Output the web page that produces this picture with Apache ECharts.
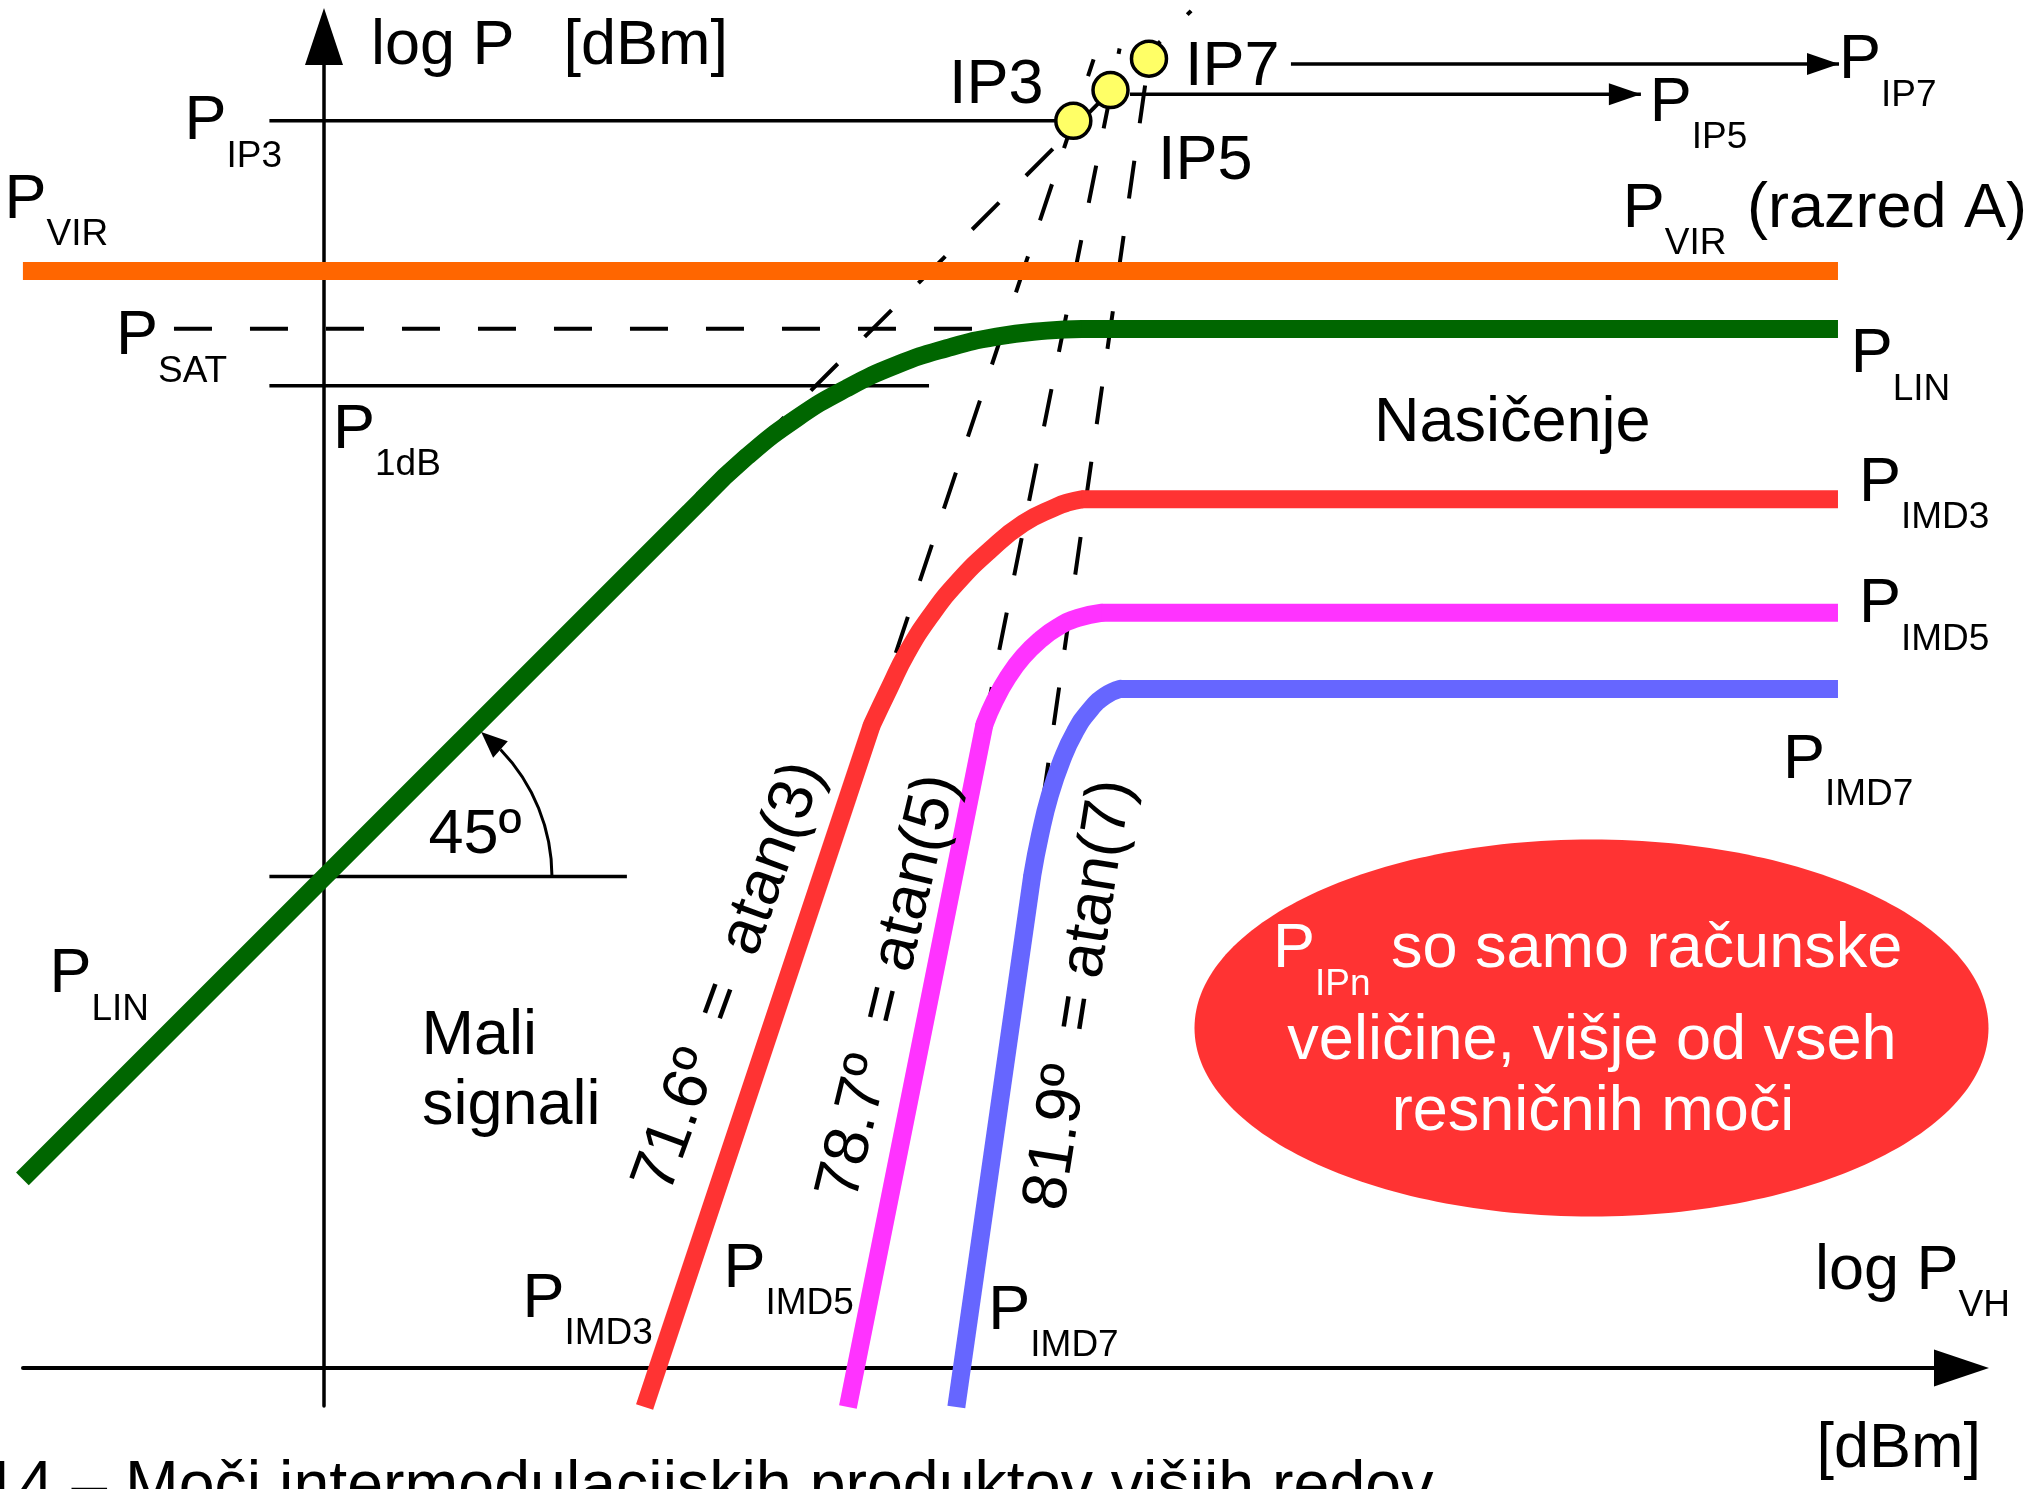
<!DOCTYPE html>
<html>
<head>
<meta charset="utf-8">
<script src="https://cdn.jsdelivr.net/npm/echarts@6/dist/echarts.min.js"></script>
<style>
  html, body { margin: 0; padding: 0; background: #ffffff; }
  #chart { width: 2041px; height: 1489px; }
</style>
</head>
<body>
<div id="chart"></div>
<script>
// ---- Power levels, in dB (x: input power log P_VH, y: output power log P) ----

// Linear output P_LIN: 45° rise, compression knee, saturation
const linRise = [[-11.6, 7.27], [14.59, 33.46]];
const linKnee = [[14.59, 33.46], [16.26, 35.05], [18.18, 36.53], [20.10, 37.68], [22.03, 38.58],
                 [23.95, 39.22], [25.87, 39.67], [27.80, 39.90], [29.14, 39.96]];
const linSat  = [[29.14, 39.96], [58.23, 39.96]];

// Third-order intermodulation P_IMD3 (slope 3)
const imd3Rise = [[12.33, -1.5], [21.07, 24.73]];
const imd3Knee = [[21.07, 24.73], [21.77, 26.20], [22.41, 27.49], [23.31, 28.90], [24.33, 30.18],
                  [25.62, 31.46], [26.90, 32.49], [28.18, 33.13], [28.62, 33.29], [29.14, 33.41]];
const imd3Sat  = [[29.14, 33.41], [58.23, 33.41]];

// Fifth-order intermodulation P_IMD5 (slope 5)
const imd5Rise = [[20.15, -1.5], [25.40, 24.75]];
const imd5Knee = [[25.40, 24.75], [25.81, 25.69], [26.31, 26.58], [26.88, 27.35], [27.54, 28.00],
                  [28.23, 28.50], [29.00, 28.85], [29.91, 29.05]];
const imd5Sat  = [[29.91, 29.05], [58.23, 29.05]];

// Seventh-order intermodulation P_IMD7 (slope 7)
const imd7Rise = [[24.32, -1.5], [27.24, 18.94]];
const imd7Knee = [[27.24, 18.94], [27.54, 20.50], [27.92, 22.04], [28.38, 23.38], [28.88, 24.46],
                  [29.46, 25.31], [30.04, 25.85], [30.62, 26.12]];
const imd7Sat  = [[30.62, 26.12], [58.23, 26.12]];

// Supply power level P_VIR (class A)
const pVir = [[-11.58, 42.19], [58.23, 42.19]];

// Extrapolations of the small-signal slopes towards the intercept points
const extLin  = [[14.59, 33.46], [33.35, 52.20]];
const extImd3 = [[21.07, 24.73], [29.60, 50.33]];
const extImd5 = [[25.40, 24.75], [30.60, 50.75]];
const extImd7 = [[27.24, 18.94], [31.73, 50.37]];

// Intercept points IP3, IP5, IP7
const interceptNames = ['IP3', 'IP5', 'IP7'];
const interceptPts = [[28.82, 47.97], [30.25, 49.15], [31.73, 50.36]];

// Marker levels
const satLevel  = [[-5.77, 39.97], [29.14, 39.97]];
const p1dBLevel = [[-2.10, 37.78], [23.27, 37.78]];
const ip3Level  = [[-2.10, 47.97], [28.82, 47.97]];
const refLevel  = [[-2.10, 18.90], [11.65, 18.90]];
const ip5Arrow  = [[31.00, 48.99], [50.65, 48.99]];
const ip7Arrow  = [[37.19, 50.15], [58.27, 50.15]];

// ---- Layout: 26 px per dB on both axes keeps the 45° line at 45° ----
const PX_PER_DB = 26;
const ORIGIN = [324, 1368];
const PLOT = { left: 23, top: 36.5, right: 1961.5, bottom: 1406 };

const FONT = '"Liberation Sans", Arial, Helvetica, sans-serif';
const BIG = 63, SMALL = 37, MID = 0.285;

const chart = echarts.init(document.getElementById('chart'), null, { renderer: 'canvas' });

function line(data, color, width, extra) {
  return Object.assign({
    type: 'line', data: data, symbol: 'none', clip: false, silent: true,
    animation: false, z: 2,
    lineStyle: { color: color, width: width, cap: 'butt', join: 'round' }
  }, extra || {});
}
function dashed(data) {
  return line(data, '#000000', 4, {
    lineStyle: { color: '#000000', width: 4, type: [38, 38], cap: 'butt' }
  });
}
function knee(data, color) {
  return line(data, color, 18, {
    smooth: 0.5,
    lineStyle: { color: color, width: 18, cap: 'round', join: 'round' }
  });
}

const GREEN = '#006600', ORANGE = '#FF6600', RED = '#FF3333', MAGENTA = '#FF33FF', BLUE = '#6666FF';

chart.setOption({
  animation: false,
  backgroundColor: '#ffffff',
  grid: {
    left: PLOT.left, top: PLOT.top,
    width: PLOT.right - PLOT.left, height: PLOT.bottom - PLOT.top,
    containLabel: false
  },
  xAxis: {
    type: 'value',
    min: (PLOT.left - ORIGIN[0]) / PX_PER_DB,
    max: (PLOT.right - ORIGIN[0]) / PX_PER_DB,
    axisLine: { show: true, onZero: true, symbol: ['none', 'triangle'], symbolSize: [37, 55],
                lineStyle: { color: '#000000', width: 4 } },
    axisTick: { show: false }, axisLabel: { show: false }, splitLine: { show: false }
  },
  yAxis: {
    type: 'value',
    min: (ORIGIN[1] - PLOT.bottom) / PX_PER_DB,
    max: (ORIGIN[1] - PLOT.top) / PX_PER_DB,
    axisLine: { show: true, onZero: true, symbol: ['none', 'triangle'], symbolSize: [38, 57],
                lineStyle: { color: '#000000', width: 3.5 } },
    axisTick: { show: false }, axisLabel: { show: false }, splitLine: { show: false }
  },
  series: [
    dashed(satLevel),
    dashed(extLin), dashed(extImd3), dashed(extImd5), dashed(extImd7),
    line(p1dBLevel, '#000000', 3.5),
    line(ip3Level, '#000000', 3.5),
    line(refLevel, '#000000', 3.5),
    line(ip5Arrow, '#000000', 3.5),
    line(ip7Arrow, '#000000', 3.5),
    line(pVir, ORANGE, 18),
    line(linRise, GREEN, 18), knee(linKnee, GREEN), line(linSat, GREEN, 18),
    line(imd3Rise, RED, 18), knee(imd3Knee, RED), line(imd3Sat, RED, 18),
    line(imd5Rise, MAGENTA, 18), knee(imd5Knee, MAGENTA), line(imd5Sat, MAGENTA, 18),
    line(imd7Rise, BLUE, 18), knee(imd7Knee, BLUE), line(imd7Sat, BLUE, 18),
    {
      type: 'scatter', data: interceptPts.map(function (p, i) { return { name: interceptNames[i], value: p }; }),
      symbol: 'circle', symbolSize: 35, silent: true, z: 5, animation: false,
      itemStyle: { color: '#FFFF66', borderColor: '#000000', borderWidth: 3.5, opacity: 1 }
    }
  ]
});

// ---- Annotations ----
function txt(x, base, str, size, fill, align) {
  return {
    type: 'text', x: x, y: base - MID * size, z: 100, silent: true,
    style: {
      text: str, font: size + 'px ' + FONT, fill: fill || '#000000',
      textAlign: align || 'left', align: align || 'left',
      textVerticalAlign: 'middle', verticalAlign: 'middle'
    }
  };
}
function psub(x, base, sub, fill) {
  return [txt(x, base, 'P', BIG, fill), txt(x + 42, base + 27, sub, SMALL, fill)];
}
function rotated(cx, cy, deg, str) {
  return {
    type: 'text', x: cx, y: cy, rotation: deg * Math.PI / 180, z: 100, silent: true,
    style: {
      text: str, font: BIG + 'px ' + FONT, fill: '#000000',
      textAlign: 'center', align: 'center', textVerticalAlign: 'middle', verticalAlign: 'middle'
    }
  };
}
function arrowHead(tip, dir, len, half) {
  const bx = tip[0] - dir[0] * len, by = tip[1] - dir[1] * len;
  const nx = -dir[1], ny = dir[0];
  return {
    type: 'polygon', z: 50, silent: true,
    shape: { points: [tip, [bx + nx * half, by + ny * half], [bx - nx * half, by - ny * half]] },
    style: { fill: '#000000' }
  };
}

const px = function (p) { return chart.convertToPixel({ gridIndex: 0 }, p); };
const g = [];

// arrows from IP5 / IP7 to their output levels
[ip5Arrow, ip7Arrow].forEach(function (a) {
  g.push(arrowHead(px(a[1]), [1, 0], 32, 11));
});

// 45° angle arc with arrow
const arcC = [368.4, 877], arcR = 183.6;
const aEnd = 44 * Math.PI / 180, aTip = 52.1 * Math.PI / 180;
g.push({
  type: 'arc', z: 50, silent: true,
  shape: { cx: arcC[0], cy: arcC[1], r: arcR, startAngle: -aEnd, endAngle: 0, clockwise: true },
  style: { stroke: '#000000', lineWidth: 3, fill: null }
});
(function () {
  const tip = [arcC[0] + arcR * Math.cos(aTip), arcC[1] - arcR * Math.sin(aTip)];
  const base = [arcC[0] + arcR * Math.cos(aEnd), arcC[1] - arcR * Math.sin(aEnd)];
  const d = [tip[0] - base[0], tip[1] - base[1]];
  const l = Math.hypot(d[0], d[1]);
  g.push(arrowHead(tip, [d[0] / l, d[1] / l], l, 11));
})();

// note ellipse
g.push({
  type: 'ellipse', z: 90, silent: true,
  shape: { cx: 1591.5, cy: 1028, rx: 397, ry: 188.5 },
  style: { fill: RED }
});

// axis titles
g.push(txt(371, 65, 'log P', BIG), txt(563.5, 65, '[dBm]', BIG));
g.push(txt(1815, 1289.7, 'log P', BIG), txt(1958.6, 1316.7, 'VH', SMALL));
g.push(txt(1816.5, 1468, '[dBm]', BIG));

// level labels
g.push.apply(g, psub(184.5, 140, 'IP3'));
g.push.apply(g, psub(4.6, 218.3, 'VIR'));
g.push.apply(g, psub(116, 355, 'SAT'));
g.push.apply(g, psub(333, 448.3, '1dB'));
g.push.apply(g, psub(1649.7, 121.7, 'IP5'));
g.push.apply(g, psub(1839, 79, 'IP7'));
g.push.apply(g, psub(1622.8, 227.7, 'VIR'));
g.push(txt(1747, 227.7, '(razred A)', BIG));
g.push.apply(g, psub(1850.7, 372.9, 'LIN'));
g.push.apply(g, psub(1859, 501.4, 'IMD3'));
g.push.apply(g, psub(1859, 622.9, 'IMD5'));
g.push.apply(g, psub(1783, 778.2, 'IMD7'));
g.push.apply(g, psub(49.5, 993, 'LIN'));
g.push.apply(g, psub(522.4, 1317.3, 'IMD3'));
g.push.apply(g, psub(723.5, 1287.3, 'IMD5'));
g.push.apply(g, psub(988.3, 1329.3, 'IMD7'));

// intercept point names
g.push(txt(949, 104, 'IP3', BIG), txt(1185, 86, 'IP7', BIG), txt(1158, 180, 'IP5', BIG));

// region names
g.push(txt(1374, 442, 'Nasičenje', BIG));
g.push(txt(421.6, 1054.5, 'Mali', BIG), txt(422, 1124.6, 'signali', BIG));
g.push(txt(428.5, 853.6, '45º', BIG));

// slope labels
g.push(rotated(730, 977, 70, '71.6º  =  atan(3)'));
g.push(rotated(889, 987, 76.5, '78.7º  = atan(5)'));
g.push(rotated(1080, 995, 81, '81.9º  = atan(7)'));

// note text (white on the ellipse)
g.push.apply(g, psub(1273, 968, 'IPn', '#ffffff'));
g.push(txt(1391, 968, 'so samo računske', BIG, '#ffffff'));
g.push(txt(1592, 1060, 'veličine, višje od vseh', BIG, '#ffffff', 'center'));
g.push(txt(1593, 1131, 'resničnih moči', BIG, '#ffffff', 'center'));

// caption
g.push(txt(107, 1507, '14 –', 64, '#000000', 'right'));
g.push(txt(125, 1507, 'Moči intermodulacijskih produktov višjih redov', 64.5));

chart.setOption({ graphic: { elements: g } });
</script>
</body>
</html>
